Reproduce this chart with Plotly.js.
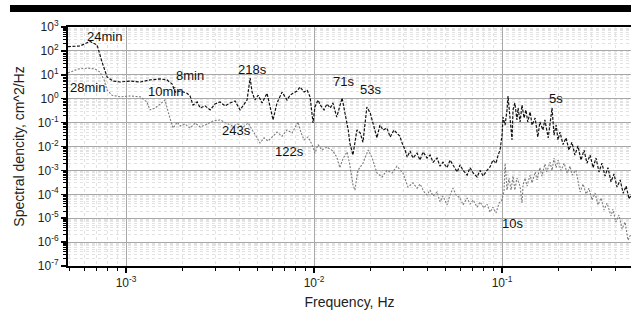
<!DOCTYPE html>
<html><head><meta charset="utf-8">
<script src="https://cdn.plot.ly/plotly-3.0.1.min.js"></script>
<style>html,body{margin:0;padding:0;background:#fff;overflow:hidden}</style>
</head><body><div id="chart" style="width:631px;height:310px"></div>
<script>
// Black series (darker): frequency (Hz) and spectral density (cm^2/Hz)
const fB = [4.91e-4,5.69e-4,6.43e-4,7.01e-4,7.45e-4,7.92e-4,8.52e-4,9.29e-4,1.05e-3,1.19e-3,1.34e-3,1.52e-3,1.65e-3,1.76e-3,1.82e-3,1.94e-3,2.11e-3,2.19e-3,2.27e-3,2.39e-3,2.48e-3,2.63e-3,2.80e-3,2.97e-3,3.16e-3,3.36e-3,3.57e-3,3.80e-3,4.04e-3,4.24e-3,4.40e-3,4.57e-3,4.68e-3,4.85e-3,5.04e-3,5.29e-3,5.62e-3,5.84e-3,6.05e-3,6.35e-3,6.76e-3,7.18e-3,7.45e-3,7.73e-3,8.12e-3,8.42e-3,8.85e-3,9.18e-3,9.52e-3,9.88e-3,1.01e-2,1.05e-2,1.08e-2,1.13e-2,1.17e-2,1.22e-2,1.26e-2,1.32e-2,1.41e-2,1.46e-2,1.52e-2,1.55e-2,1.61e-2,1.69e-2,1.76e-2,1.82e-2,1.91e-2,1.99e-2,2.06e-2,2.16e-2,2.24e-2,2.33e-2,2.44e-2,2.54e-2,2.66e-2,2.76e-2,2.86e-2,2.94e-2,3.05e-2,3.13e-2,3.24e-2,3.36e-2,3.53e-2,3.66e-2,3.80e-2,3.99e-2,4.14e-2,4.30e-2,4.51e-2,4.68e-2,4.85e-2,5.10e-2,5.29e-2,5.48e-2,5.77e-2,5.98e-2,6.20e-2,6.52e-2,6.76e-2,7.02e-2,7.37e-2,7.64e-2,7.93e-2,8.32e-2,8.63e-2,8.95e-2,9.29e-2,9.53e-2,9.76e-2,0.100,0.1012,0.1038,0.1063,0.1076,0.110,0.113,0.1144,0.117,0.120,0.1217,0.1247,0.1277,0.131,0.134,0.137,0.141,0.1445,0.150,0.155,0.159,0.165,0.169,0.176,0.180,0.1845,0.189,0.194,0.1985,0.2034,0.211,0.219,0.227,0.2355,0.244,0.2535,0.263,0.273,0.283,0.294,0.305,0.316,0.328,0.340,0.353,0.366,0.380,0.394,0.409,0.425,0.441,0.457,0.474,0.491];
const sB = [150,160,250,177,34,8.1,5.5,5.0,5.5,5.0,6.1,6.7,6.1,4.1,1.9,2.1,1.7,1.3,0.54,0.73,0.41,0.50,0.34,0.60,0.73,0.50,0.66,0.80,0.34,0.60,0.88,7.3,1.9,0.88,1.4,0.66,1.7,0.45,0.13,0.66,1.9,0.88,1.4,1.7,2.1,3.1,1.9,2.3,1.2,0.096,0.45,0.88,0.54,0.34,0.60,0.41,0.66,0.17,1.07,0.25,0.049,0.014,0.0044,0.049,0.037,0.015,0.45,0.25,0.096,0.023,0.079,0.049,0.059,0.025,0.049,0.037,0.027,0.014,0.0071,0.0036,0.0065,0.0033,0.0053,0.0027,0.0059,0.0033,0.0044,0.0022,0.0033,0.0015,0.0022,0.0013,0.0027,0.0017,8.6e-4,0.0017,0.0010,6.4e-4,0.0013,7.8e-4,5.3e-4,0.0010,5.8e-4,0.0010,0.0014,0.0027,0.0020,0.0044,0.0071,0.030,0.17,0.079,0.34,1.3,0.13,0.019,0.34,0.66,0.13,0.41,0.106,0.54,0.156,0.34,0.106,0.28,0.079,0.156,0.025,0.106,0.049,0.13,0.023,0.079,0.41,0.030,0.079,0.019,0.040,0.012,0.023,0.0071,0.015,0.0044,0.0105,0.0027,0.0071,0.0020,0.0044,0.0013,0.0033,8.6e-4,0.0020,5.8e-4,0.0013,3.3e-4,7.1e-4,2.0e-4,4.0e-4,1.1e-4,2.2e-4,6.4e-5,1.1e-4];

// Gray series (lighter)
const fG = [4.91e-4,5.56e-4,6.28e-4,6.84e-4,7.27e-4,7.64e-4,7.92e-4,8.42e-4,9.29e-4,1.05e-3,1.19e-3,1.29e-3,1.34e-3,1.43e-3,1.52e-3,1.61e-3,1.71e-3,1.78e-3,1.87e-3,1.94e-3,2.06e-3,2.19e-3,2.33e-3,2.48e-3,2.70e-3,2.90e-3,3.16e-3,3.40e-3,3.67e-3,3.94e-3,4.19e-3,4.46e-3,4.68e-3,4.91e-3,5.16e-3,5.42e-3,5.69e-3,6.05e-3,6.35e-3,6.76e-3,7.18e-3,7.64e-3,8.22e-3,8.53e-3,8.85e-3,9.29e-3,9.75e-3,1.01e-2,1.05e-2,1.10e-2,1.17e-2,1.26e-2,1.32e-2,1.37e-2,1.43e-2,1.50e-2,1.55e-2,1.61e-2,1.65e-2,1.71e-2,1.82e-2,1.94e-2,2.03e-2,2.16e-2,2.30e-2,2.44e-2,2.60e-2,2.76e-2,2.97e-2,3.16e-2,3.36e-2,3.53e-2,3.66e-2,3.85e-2,3.99e-2,4.14e-2,4.30e-2,4.51e-2,4.68e-2,4.85e-2,5.10e-2,5.29e-2,5.48e-2,5.69e-2,5.98e-2,6.20e-2,6.52e-2,6.76e-2,7.02e-2,7.37e-2,7.64e-2,8.01e-2,8.32e-2,8.63e-2,8.95e-2,9.29e-2,9.64e-2,0.100,0.1025,0.1038,0.1063,0.109,0.1117,0.1144,0.117,0.120,0.1247,0.1277,0.1294,0.1325,0.1358,0.141,0.1445,0.150,0.1535,0.159,0.163,0.169,0.173,0.180,0.1845,0.189,0.194,0.1985,0.206,0.214,0.222,0.230,0.2355,0.2475,0.2535,0.260,0.270,0.280,0.290,0.301,0.3125,0.324,0.336,0.349,0.362,0.380,0.389,0.403,0.419,0.435,0.451,0.468,0.485];
const sG = [12,17.5,19,17.5,13,6.1,2.3,1.4,1.2,1.3,1.2,0.73,0.34,0.41,0.60,0.88,0.156,0.059,0.106,0.072,0.087,0.059,0.096,0.065,0.087,0.117,0.13,0.096,0.072,0.087,0.065,0.096,0.049,0.025,0.014,0.023,0.017,0.027,0.040,0.027,0.049,0.037,0.106,0.037,0.019,0.025,0.012,0.0053,0.012,0.0071,0.0095,0.0065,0.0036,0.0013,0.0033,0.0059,0.0017,2.5e-4,1.5e-4,0.0010,0.0020,0.0071,0.0036,7.8e-4,5.3e-4,0.0010,7.8e-4,0.0015,7.8e-4,2.0e-4,3.0e-4,1.8e-4,2.7e-4,1.25e-4,9.4e-5,1.5e-4,8.5e-5,1.25e-4,4.8e-5,8.5e-5,3.6e-5,9.4e-5,1.8e-4,9.4e-5,7.0e-5,3.6e-5,7.0e-5,3.9e-5,5.8e-5,2.9e-5,4.8e-5,2.7e-5,3.9e-5,1.8e-5,2.9e-5,1.65e-5,4.3e-5,5.8e-5,1.5e-4,0.0020,1.5e-4,4.8e-4,1.5e-4,5.8e-4,1.5e-4,4.8e-4,2.2e-4,4.3e-5,2.5e-4,4.8e-4,2.2e-4,6.4e-4,3.0e-4,8.6e-4,4.0e-4,0.0013,5.8e-4,0.00185,8.6e-4,0.0022,0.0010,0.0033,0.0013,0.0027,0.0010,0.0020,7.8e-4,0.0015,6.4e-4,0.0010,4.0e-4,1.25e-4,2.7e-4,1.03e-4,1.8e-4,5.8e-5,1.13e-4,3.6e-5,7.0e-5,2.2e-5,4.3e-5,1.24e-5,2.4e-5,6.9e-6,1.36e-5,3.5e-6,6.9e-6,1.2e-6,2.2e-6];

// Axis ticks
const xTickVals = [1e-3, 1e-2, 1e-1];
const xTickText = ["10<sup>-3</sup>", "10<sup>-2</sup>", "10<sup>-1</sup>"];
const yTickVals = [1e3, 1e2, 1e1, 1e0, 1e-1, 1e-2, 1e-3, 1e-4, 1e-5, 1e-6, 1e-7];
const yTickText = ["10<sup>3</sup>", "10<sup>2</sup>", "10<sup>1</sup>", "10<sup>0</sup>", "10<sup>-1</sup>", "10<sup>-2</sup>", "10<sup>-3</sup>", "10<sup>-4</sup>", "10<sup>-5</sup>", "10<sup>-6</sup>", "10<sup>-7</sup>"];

// Period labels and their positions (log10 of frequency, log10 of density)
const labelText = ["24min","28min","8min","10min","218s","243s","122s","71s","53s","5s","10s"];
const labelLogF = [-3.117,-3.207,-2.660,-2.793,-2.330,-2.415,-2.133,-1.846,-1.702,-0.713,-0.947];
const labelLogS = [2.62,0.448,0.99,0.32,1.24,-1.31,-2.19,0.74,0.406,0.029,-5.24];

const FONT = "Liberation Sans, Arial, sans-serif";

const traces = [
  {x: fG, y: sG, type: "scatter", mode: "lines",
   line: {color: "#7c7c7c", width: 1.1, dash: "2px,1.5px"}, hoverinfo: "skip"},
  {x: fB, y: sB, type: "scatter", mode: "lines",
   line: {color: "#111111", width: 1.2, dash: "3px,1.5px"}, hoverinfo: "skip"}
];

const annotations = labelText.map((t, i) => ({
  x: labelLogF[i], y: labelLogS[i], xref: "x", yref: "y", text: t,
  showarrow: false, font: {family: FONT, size: 13, color: "#111"}
}));

const axisCommon = {
  type: "log", tickmode: "array",
  showline: true, linecolor: "#000", linewidth: 2,
  ticks: "outside", ticklen: 5, tickwidth: 1.5, tickcolor: "#000",
  showgrid: true, gridcolor: "#a8a8a8", gridwidth: 1,
  zeroline: false,
  tickfont: {family: FONT, size: 12, color: "#222"},
  minor: {dtick: "D1", ticks: "outside", ticklen: 3, tickwidth: 1, tickcolor: "#000",
          showgrid: true, gridcolor: "#e2e2e2", griddash: "dot", gridwidth: 1}
};

const layout = {
  width: 631, height: 310,
  margin: {l: 68, r: 0, t: 27, b: 44},
  paper_bgcolor: "#fff", plot_bgcolor: "#fff",
  showlegend: false,
  xaxis: Object.assign({}, axisCommon, {
    range: [-3.309, -0.314], mirror: true,
    tickvals: xTickVals, ticktext: xTickText,
    title: {text: "Frequency, Hz", font: {family: FONT, size: 14, color: "#222"}, standoff: 8}
  }),
  yaxis: Object.assign({}, axisCommon, {
    range: [-7, 3],
    tickvals: yTickVals, ticktext: yTickText,
    title: {text: "Spectral dencity, cm^2/Hz", font: {family: FONT, size: 14, color: "#222"}, standoff: 10}
  }),
  annotations: annotations,
  shapes: [{type: "rect", xref: "paper", yref: "paper", x0: -0.103, x1: 1.0, y0: 1.063, y1: 1.092,
            fillcolor: "#000", line: {width: 0}, layer: "above"}]
};

Plotly.newPlot("chart", traces, layout, {staticPlot: true, displayModeBar: false});
</script></body></html>
